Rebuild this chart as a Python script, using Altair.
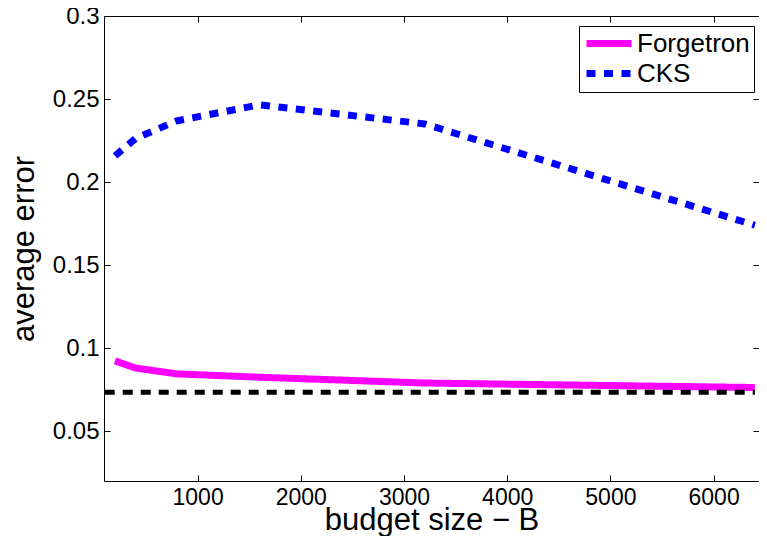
import altair as alt
import pandas as pd

# ---- data ----
budget = [200, 400, 800, 1600, 3200, 6400]
forgetron_err = [0.0923, 0.0880, 0.0845, 0.0825, 0.0790, 0.0763]
cks_err = [0.2158, 0.2263, 0.2369, 0.2465, 0.2350, 0.1740]
baseline_budget = [100, 6400]
baseline_err = [0.0735, 0.0735]
series_names = ["Forgetron", "CKS"]
series_colors = ["#ff00ff", "#0000ff"]
x_ticks = [1000, 2000, 3000, 4000, 5000, 6000]
y_ticks = [0.05, 0.1, 0.15, 0.2, 0.25, 0.3]

df = pd.DataFrame({
    "B": budget * 2,
    "err": forgetron_err + cks_err,
    "method": [series_names[0]] * len(budget) + [series_names[1]] * len(budget),
})
ref = pd.DataFrame({"B": baseline_budget, "err": baseline_err})

W, H = 655, 465
FONT = "Liberation Sans"
xscale = alt.Scale(domain=[93, 6440], nice=False, zero=False)
yscale = alt.Scale(domain=[0.02, 0.3], nice=False, zero=False)

legend = alt.Legend(
    title=None, orient="none", legendX=475, legendY=10,
    strokeColor="black", fillColor="white", padding=4, cornerRadius=0,
    labelFont=FONT, labelFontSize=26, labelColor="black",
    symbolType="M-1,0H3.5", symbolSize=400, symbolStrokeWidth=7,
    labelOffset=27, rowPadding=1,
)

x_main = alt.Axis(values=x_ticks, format="d", ticks=False, domain=False, grid=False,
                  labelFontSize=23, labelPadding=5, title="budget size − B",
                  titleFontSize=31, titleBaseline="alphabetic", titleY=48.5)
y_main = alt.Axis(values=y_ticks, format="~g", ticks=False, domain=False, grid=False,
                  labelFontSize=24, labelPadding=5, title="average error",
                  titleFontSize=31, titleBaseline="alphabetic", titleX=-71, titleY=H / 2)

lines = alt.Chart(df).mark_line(strokeWidth=7, strokeCap="butt").encode(
    x=alt.X("B:Q", scale=xscale, axis=x_main),
    y=alt.Y("err:Q", scale=yscale, axis=y_main),
    color=alt.Color("method:N", scale=alt.Scale(domain=series_names, range=series_colors), legend=legend),
    strokeDash=alt.StrokeDash("method:N", scale=alt.Scale(domain=series_names, range=[[1, 0], [9, 8.5]]), legend=legend),
)

base_line = alt.Chart(ref).mark_line(color="black", strokeWidth=5, strokeDash=[10, 8], strokeCap="butt").encode(
    x=alt.X("B:Q", scale=xscale, axis=None),
    y=alt.Y("err:Q", scale=yscale, axis=None),
)

def tick_axis(orient, offset, vals):
    return alt.Axis(orient=orient, offset=offset, values=vals, labels=False, domain=False,
                    grid=False, ticks=True, tickSize=6, title=None)

ticks_a = alt.Chart(df).mark_line(opacity=0).encode(
    x=alt.X("B:Q", scale=xscale, axis=tick_axis("top", -H, x_ticks)),
    y=alt.Y("err:Q", scale=yscale, axis=tick_axis("right", -W, y_ticks)),
)
ticks_b = alt.Chart(df).mark_line(opacity=0).encode(
    x=alt.X("B:Q", scale=xscale, axis=tick_axis("bottom", -H, x_ticks)),
    y=alt.Y("err:Q", scale=yscale, axis=tick_axis("left", -W, y_ticks)),
)

chart = alt.layer(lines, base_line, ticks_a, ticks_b).resolve_axis(
    x="independent", y="independent"
).properties(
    width=W, height=H,
    autosize=alt.AutoSizeParams(type="none"),
    padding={"left": 96, "top": 8, "right": 0, "bottom": 55},
).configure_view(stroke="black", strokeWidth=1).configure_axis(
    labelFont=FONT, titleFont=FONT, labelColor="black", titleColor="black",
    tickColor="black", titleFontWeight="normal",
)

chart.save("out.html", embed_options={"renderer": "svg", "actions": False})
